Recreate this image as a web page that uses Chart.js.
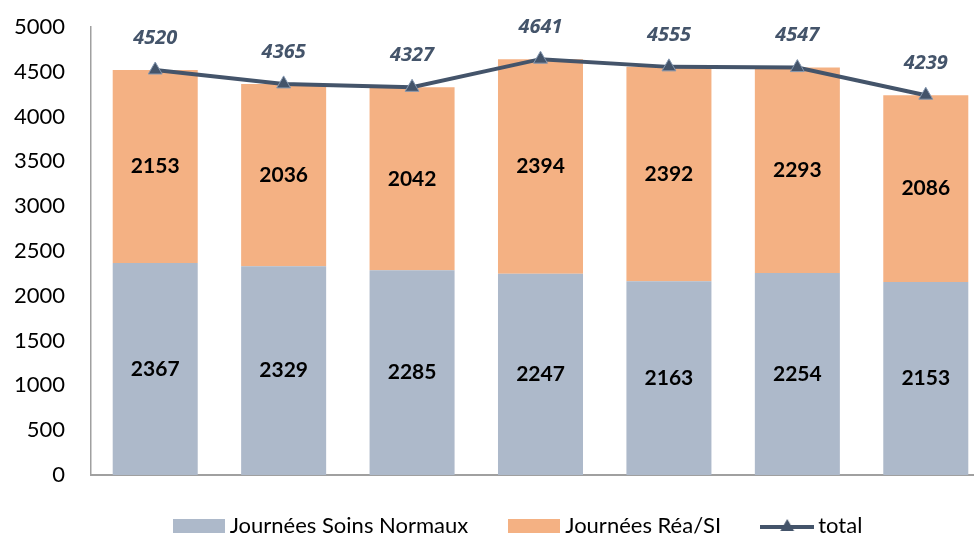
<!DOCTYPE html>
<html>
<head>
<meta charset="utf-8">
<script src="https://cdn.jsdelivr.net/npm/chart.js@4.4.1/dist/chart.umd.min.js"></script>
<style>
  html, body { margin: 0; padding: 0; background: #fff; overflow: hidden; }
</style>
</head>
<body>
<canvas id="chart" width="1000" height="535"></canvas>
<script>
const years = ['2014', '2015', '2016', '2017', '2018', '2019', '2020'];
const soinsNormaux = [2367, 2329, 2285, 2247, 2163, 2254, 2153];
const reaSI = [2153, 2036, 2042, 2394, 2392, 2293, 2086];
const total = [4520, 4365, 4327, 4641, 4555, 4547, 4239];

const slate = '#44546A';
const blueGrey = '#ADB9CA';
const orange = '#F4B183';

// legend icons drawn as small canvases so the gap to the text stays tight
function boxIcon(color) {
    const c = document.createElement('canvas');
    c.width = 52;
    c.height = 14;
    const g = c.getContext('2d');
    g.fillStyle = color;
    g.fillRect(0, 0, 52, 14);
    return c;
}

function lineIcon() {
    const c = document.createElement('canvas');
    c.width = 54;
    c.height = 20;
    const g = c.getContext('2d');
    g.strokeStyle = slate;
    g.lineWidth = 4;
    g.beginPath();
    g.moveTo(0, 11);
    g.lineTo(54, 11);
    g.stroke();
    g.fillStyle = slate;
    g.beginPath();
    g.moveTo(27, 3);
    g.lineTo(33.9, 15);
    g.lineTo(20.1, 15);
    g.closePath();
    g.fill();
    return c;
}

// numbers inside the bars and above the line points
const valueLabels = {
    id: 'valueLabels',
    afterDatasetsDraw(chart) {
        const ctx = chart.ctx;
        ctx.save();
        ctx.textAlign = 'center';
        ctx.textBaseline = 'middle';
        chart.data.datasets.forEach((ds, i) => {
            const meta = chart.getDatasetMeta(i);
            meta.data.forEach((el, j) => {
                if (meta.type === 'bar') {
                    const p = el.getProps(['x', 'y', 'base'], true);
                    ctx.font = 'bold 21px Lato';
                    ctx.fillStyle = '#000';
                    ctx.fillText(ds.data[j], p.x, (p.y + p.base) / 2);
                } else {
                    ctx.font = 'italic bold 20px "Open Sans"';
                    ctx.fillStyle = slate;
                    ctx.fillText(ds.data[j], el.x, el.y - 32);
                }
            });
        });
        ctx.restore();
    }
};

// legend box sits right under the plot, nudged to match the original spot
const legendFit = {
    id: 'legendFit',
    beforeInit(chart) {
        const fit = chart.legend.fit;
        chart.legend.fit = function () {
            fit.call(this);
            this.height = 60;
        };
    },
    afterLayout(chart) {
        chart.legend.left = 51;
        chart.legend.top = chart.chartArea.bottom - 6;
    }
};

new Chart(document.getElementById('chart'), {
    data: {
        labels: years,
        datasets: [
            {
                type: 'bar',
                label: 'Journées Soins Normaux',
                data: soinsNormaux,
                backgroundColor: blueGrey,
                stack: 'jours',
                order: 1,
                barPercentage: 0.662,
                categoryPercentage: 1
            },
            {
                type: 'bar',
                label: 'Journées Réa/SI',
                data: reaSI,
                backgroundColor: orange,
                stack: 'jours',
                order: 1,
                barPercentage: 0.662,
                categoryPercentage: 1
            },
            {
                type: 'line',
                label: 'total',
                data: total,
                stack: 'total',
                order: 0,
                borderColor: slate,
                backgroundColor: slate,
                borderWidth: 4,
                tension: 0,
                pointStyle: 'triangle',
                pointRadius: 8,
                pointBackgroundColor: slate,
                pointBorderColor: '#8497B0',
                pointBorderWidth: 1
            }
        ]
    },
    options: {
        responsive: false,
        devicePixelRatio: 1,
        animation: false,
        layout: {
            padding: { top: 27, left: 0, right: 10, bottom: 0 }
        },
        scales: {
            x: {
                stacked: true,
                grid: { display: false, drawTicks: false },
                border: { color: '#A0A0A0', width: 2 },
                ticks: {
                    padding: 15,
                    color: '#000',
                    font: { family: 'Lato', size: 18 }
                },
                afterFit(scale) {
                    scale.height = 0;
                }
            },
            y: {
                stacked: true,
                min: 0,
                max: 5000,
                grid: { display: false, drawTicks: false },
                border: { color: '#A0A0A0', width: 1.5 },
                ticks: {
                    stepSize: 500,
                    padding: 26,
                    color: '#000',
                    font: { family: 'Lato', size: 22 },
                    callback: (v) => String(v)
                },
                afterFit(scale) {
                    scale.width = 91;
                    scale.paddingTop = 0;
                    scale.paddingBottom = 0;
                }
            }
        },
        plugins: {
            tooltip: { enabled: false },
            legend: {
                position: 'bottom',
                labels: {
                    usePointStyle: true,
                    pointStyleWidth: 40,
                    boxHeight: 14,
                    padding: 46,
                    color: '#000',
                    font: { family: 'Lato', size: 22 },
                    generateLabels(chart) {
                        return chart.data.datasets.map((ds, i) => ({
                            text: ds.label,
                            fillStyle: ds.backgroundColor,
                            strokeStyle: ds.backgroundColor,
                            lineWidth: 0,
                            pointStyle: ds.type === 'line' ? lineIcon() : boxIcon(ds.backgroundColor),
                            datasetIndex: i,
                            hidden: false
                        }));
                    }
                }
            }
        }
    },
    plugins: [valueLabels, legendFit]
});
</script>
</body>
</html>
